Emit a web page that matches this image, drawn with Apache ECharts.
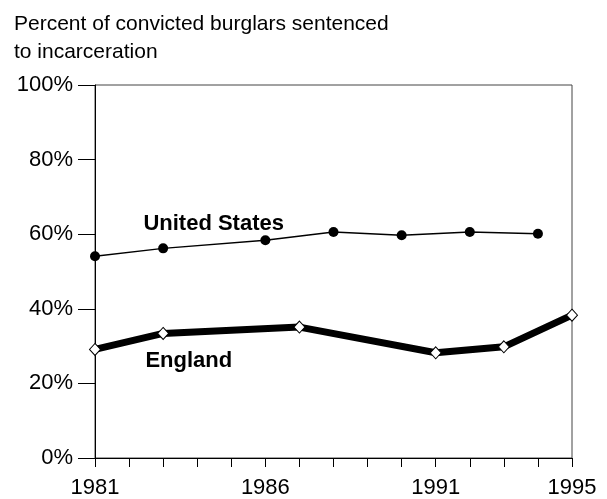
<!DOCTYPE html>
<html>
<head>
<meta charset="utf-8">
<script src="https://cdn.jsdelivr.net/npm/echarts@6/dist/echarts.min.js"></script>
<style>
  html, body { margin: 0; padding: 0; background: #fff; }
  #chart { width: 607px; height: 499px; }
</style>
</head>
<body>
<div id="chart"></div>
<script>
// Share of convicted burglars sentenced to incarceration, by year
const titleLines = ['Percent of convicted burglars sentenced', 'to incarceration'];
const xLabelYears = [1981, 1986, 1991, 1995];
const yTicks = [0, 20, 40, 60, 80, 100];

const usYears = [1981, 1983, 1986, 1988, 1990, 1992, 1994];
const usValues = [54.1, 56.2, 58.4, 60.6, 59.7, 60.6, 60.1];

const englandYears = [1981, 1983, 1987, 1991, 1993, 1995];
const englandValues = [29.1, 33.4, 35.1, 28.2, 29.8, 38.3];

// series name labels, anchored in data space (year, percent)
const seriesLabels = [
  { text: 'United States', at: [1982.42, 62.8] },
  { text: 'England', at: [1982.48, 26.0] }
];

const FONT = 'Liberation Sans, Arial, Helvetica, sans-serif';

function pairs(xs, ys) { return xs.map((x, i) => [x, ys[i]]); }

const chart = echarts.init(document.getElementById('chart'), null, { renderer: 'canvas' });

chart.setOption({
  animation: false,
  backgroundColor: '#fff',
  textStyle: { fontFamily: FONT, color: '#000' },
  title: {
    text: titleLines.join('\n'),
    left: 14,
    top: 10,
    padding: 0,
    textStyle: { fontFamily: FONT, fontSize: 21, fontWeight: 'normal', color: '#000', lineHeight: 28 }
  },
  grid: {
    left: 95, right: 35, top: 85, bottom: 40,
    show: true, borderColor: '#444', borderWidth: 1, backgroundColor: 'transparent'
  },
  xAxis: {
    type: 'value',
    min: 1981, max: 1995, interval: 1,
    axisLine: { show: true, lineStyle: { color: '#000', width: 1 } },
    axisTick: { show: true, length: 9, lineStyle: { color: '#000', width: 1 } },
    splitLine: { show: false },
    axisLabel: {
      show: true,
      margin: 19,
      fontSize: 22,
      fontFamily: FONT,
      color: '#000',
      showMinLabel: true, showMaxLabel: true,
      formatter: v => xLabelYears.indexOf(v) >= 0 ? String(v) : ''
    }
  },
  yAxis: {
    type: 'value',
    min: 0, max: 100, interval: 20,
    axisLine: { show: true, lineStyle: { color: '#000', width: 1 } },
    axisTick: { show: true, length: 17, lineStyle: { color: '#000', width: 1 } },
    splitLine: { show: false },
    axisLabel: {
      margin: 22,
      fontSize: 22,
      fontFamily: FONT,
      color: '#000',
      padding: [4, 0, 0, 0],
      formatter: v => yTicks.indexOf(v) >= 0 ? v + '%' : ''
    }
  },
  series: [
    {
      name: 'United States',
      type: 'line',
      data: pairs(usYears, usValues),
      symbol: 'circle',
      symbolSize: 10,
      lineStyle: { color: '#000', width: 1.5 },
      itemStyle: { color: '#000', borderColor: '#000', borderWidth: 0 },
      z: 3
    },
    {
      name: 'England',
      type: 'line',
      data: pairs(englandYears, englandValues),
      symbol: 'diamond',
      symbolSize: [11, 12],
      lineStyle: { color: '#000', width: 7 },
      itemStyle: { color: '#fff', borderColor: '#000', borderWidth: 1 },
      z: 4
    }
  ]
});

// place the series name labels from their data-space anchors
chart.setOption({
  graphic: seriesLabels.map(l => {
    const p = chart.convertToPixel({ gridIndex: 0 }, l.at);
    return {
      type: 'text',
      x: p[0], y: p[1],
      z: 10,
      style: {
        text: l.text,
        font: 'bold 22px ' + FONT,
        fill: '#000',
        textAlign: 'left',
        textVerticalAlign: 'middle'
      }
    };
  })
});
</script>
</body>
</html>
